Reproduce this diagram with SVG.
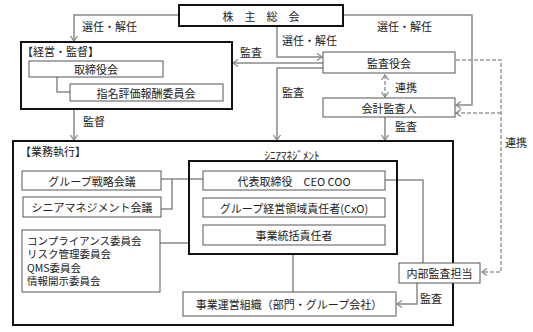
<svg xmlns="http://www.w3.org/2000/svg" width="533" height="332" viewBox="0 0 533 332">
<style>
text{font-family:"Noto Sans CJK JP","Noto Sans CJK SC",sans-serif;fill:#222;font-size:11px;dominant-baseline:central}
.c{text-anchor:middle}
.box{fill:#fff;stroke:#555;stroke-width:1}
.tbox{fill:none;stroke:#111;stroke-width:2}
.ln{fill:none;stroke:#8a8a8a;stroke-width:1.5}
.ds{fill:none;stroke:#999;stroke-width:1.5;stroke-dasharray:4 2}
.cl{font-size:10.5px}
</style>
<defs>
<marker id="ar" markerUnits="userSpaceOnUse" markerWidth="10" markerHeight="10" viewBox="-8 -5 10 10" refX="0" refY="0" orient="auto-start-reverse">
<path d="M-5,-3.5 L0,0 L-5,3.5" fill="none" stroke="#8a8a8a" stroke-width="1.3"/>
</marker>
</defs>
<rect width="533" height="332" fill="#fff"/>
<g id="connectors">
<polyline class="ln" points="179,15 74,15 74,41" marker-end="url(#ar)"/>
<polyline class="ln" points="343,15 472,15 472,105 456,105" marker-end="url(#ar)"/>
<polyline class="ln" points="277,26 277,57 322,57" marker-end="url(#ar)"/>
<line class="ln" x1="323" y1="63" x2="233" y2="63" marker-end="url(#ar)"/>
<polyline class="ln" points="323,68 277,68 277,140" marker-end="url(#ar)"/>
<line class="ln" x1="74" y1="110" x2="74" y2="140" marker-end="url(#ar)"/>
<line class="ln" x1="385" y1="117" x2="385" y2="140" marker-end="url(#ar)"/>
<line class="ds" x1="385" y1="75" x2="385" y2="97" marker-start="url(#ar)" marker-end="url(#ar)"/>
<polyline class="ds" points="456,60 501,60 501,272 482,272" marker-end="url(#ar)"/>
<line class="ds" x1="501" y1="113" x2="456" y2="113" marker-end="url(#ar)"/>
<polyline class="ln" points="57,77 57,92 70,92"/>
<polyline class="ln" points="161,179 172,179 172,209 161,209"/>
<line class="ln" x1="172" y1="179" x2="203" y2="179"/>
<line class="ln" x1="160" y1="243" x2="189" y2="243"/>
<line class="ln" x1="293" y1="254" x2="293" y2="292"/>
<polyline class="ln" points="385,180 423,180 423,263"/>
<polyline class="ln" points="417,283 417,304 397,304" marker-end="url(#ar)"/>
</g>
<g id="labels">
<text x="82" y="26">選任・解任</text>
<text x="377" y="26">選任・解任</text>
<text x="282" y="40">選任・解任</text>
<text x="240" y="52">監査</text>
<text x="83" y="121">監督</text>
<text x="282" y="92">監査</text>
<text x="395" y="87">連携</text>
<text x="395" y="126">監査</text>
<text x="505" y="142">連携</text>
<text x="420" y="298">監査</text>
</g>
<g id="shareholders">
<rect class="tbox" x="179" y="5" width="164" height="21"/>
<text class="c" x="261" y="15.5" font-size="12">株　主　総　会</text>
</g>
<g id="management">
<rect class="tbox" x="21" y="42" width="211" height="67"/>
<text x="22" y="51" font-size="10.5">【経営・監督】</text>
</g>
<g id="board">
<rect class="box" x="29" y="61" width="134" height="16"/>
<text class="c" x="96" y="69">取締役会</text>
</g>
<g id="committee">
<rect class="box" x="70" y="84" width="153" height="17"/>
<text class="c" x="146" y="92.5">指名評価報酬委員会</text>
</g>
<g id="auditboard">
<rect class="box" x="323" y="52" width="132" height="21"/>
<text class="c" x="389" y="62.5">監査役会</text>
</g>
<g id="accountant">
<rect class="box" x="323" y="98" width="132" height="19"/>
<text class="c" x="389" y="107.5">会計監査人</text>
</g>
<g id="execution">
<rect class="tbox" x="13" y="141" width="440" height="184"/>
<text x="20" y="151" font-size="10.5">【業務執行】</text>
</g>
<g id="groupstrategy">
<rect class="box" x="22" y="171" width="139" height="19"/>
<text class="c" x="92" y="180.5">グループ戦略会議</text>
</g>
<g id="seniormeeting">
<rect class="box" x="23" y="197" width="138" height="20"/>
<text class="c" x="92" y="207">シニアマネジメント会議</text>
</g>
<g id="compliance">
<rect class="box" x="22" y="230" width="138" height="62"/>
<text class="cl" x="27" y="240">コンプライアンス委員会</text>
<text class="cl" x="27" y="253.5">リスク管理委員会</text>
<text class="cl" x="27" y="267">QMS委員会</text>
<text class="cl" x="27" y="280.5">情報開示委員会</text>
</g>
<g id="seniormgmt">
<rect class="tbox" x="189" y="161" width="208" height="93"/>
<text class="c" x="292" y="155" font-size="10.5">ｼﾆｱﾏﾈｼﾞﾒﾝﾄ</text>
</g>
<g id="ceo">
<rect class="box" x="203" y="171" width="182" height="19"/>
<text class="c" x="294" y="180.5">代表取締役　CEO COO</text>
</g>
<g id="cxo">
<rect class="box" x="203" y="198" width="182" height="19"/>
<text class="c" x="294" y="207.5">グループ経営領域責任者(CxO)</text>
</g>
<g id="bizhead">
<rect class="box" x="203" y="225" width="182" height="20"/>
<text class="c" x="294" y="235">事業統括責任者</text>
</g>
<g id="internalaudit">
<rect class="box" x="399" y="263" width="81" height="20"/>
<text class="c" x="439.5" y="273">内部監査担当</text>
</g>
<g id="bizorg">
<rect class="box" x="183" y="292" width="213" height="24"/>
<text class="c" x="289" y="304">事業運営組織（部門・グループ会社）</text>
</g>
</svg>
